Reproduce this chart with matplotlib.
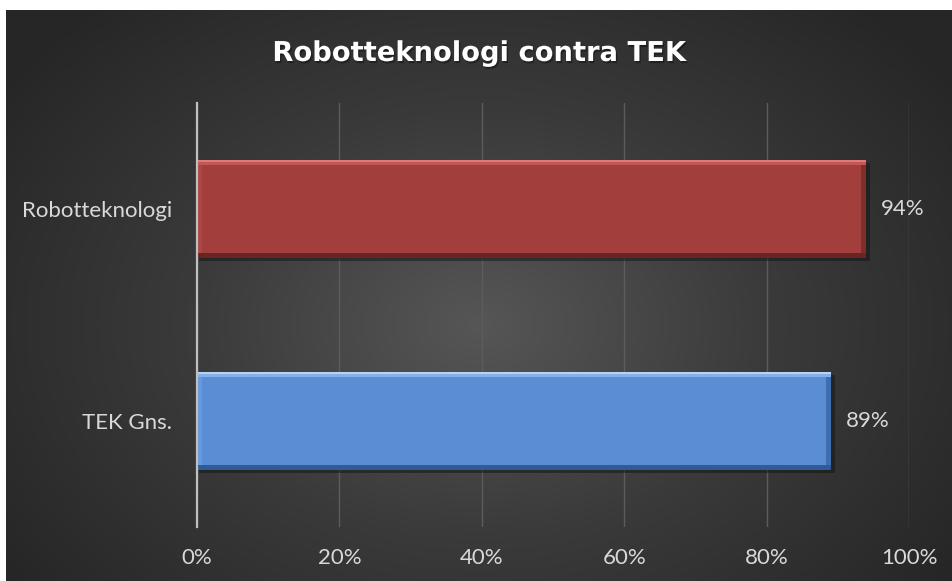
import numpy as np
import matplotlib
matplotlib.use("Agg")
import matplotlib.pyplot as plt
import matplotlib.patheffects as pe
from matplotlib.colors import LinearSegmentedColormap

categories = ["Robotteknologi", "TEK Gns."]
values = [0.94, 0.89]
labels = ["94%", "89%"]
xticks = [0, 0.2, 0.4, 0.6, 0.8, 1.0]
xticklabels = ["0%", "20%", "40%", "60%", "80%", "100%"]
title = "Robotteknologi contra TEK"

W, H = 952, 581
fig = plt.figure(figsize=(W / 100, H / 100), dpi=100, facecolor="white")

# background with radial gradient
bg = fig.add_axes([6 / W, 0, (W - 6) / W, (H - 10) / H])
bg.set_axis_off()
ny, nx = 300, 500
yy, xx = np.mgrid[0:ny, 0:nx]
cx, cy = nx * 0.5, ny * 0.55
r = np.sqrt(((xx - cx) / (nx * 0.62)) ** 2 + ((yy - cy) / (ny * 0.75)) ** 2)
r = np.clip(r, 0, 1)
cmap_bg = LinearSegmentedColormap.from_list("bg", ["#565656", "#3a3a3a", "#262626"])
bg.imshow(r, cmap=cmap_bg, aspect="auto", extent=[0, 1, 0, 1], interpolation="bilinear")
bg.set_xlim(0, 1)
bg.set_ylim(0, 1)

font = "Lato"
fs = 16

ax = fig.add_axes([197 / W, 1 - 527 / H, (909 - 197) / W, (527 - 103) / H])
ax.set_facecolor("none")
ax.set_xlim(0, 1)
pos = np.arange(len(categories))
ax.set_ylim(len(categories) - 0.5, -0.5)

ax.set_xticks(xticks)
ax.grid(axis="x", color="#5c5c5c", linewidth=1.0)
ax.set_axisbelow(True)
for s in ["top", "right", "bottom"]:
    ax.spines[s].set_visible(False)
ax.spines["left"].set_color("#bfbfbf")
ax.spines["left"].set_linewidth(1.6)
ax.spines["left"].set_zorder(6)

main_cols = ["#a23e3c", "#5b8dd5"]
hi_cols = ["#e07a78", "#b3d3f7"]
top_cols = ["#c25856", "#86b0e8"]
left_cols = ["#ad4644", "#6699de"]
bot_cols = ["#6a2422", "#2f5c99"]
right_cols = ["#7e2e2c", "#3e6db0"]
h = 0.46
py = 0.0047   # one pixel in y data units
px = 1 / 712  # one pixel in x data units
for i, v in enumerate(values):
    y0 = pos[i] - h / 2
    y1 = pos[i] + h / 2
    # shadow
    ax.barh(pos[i] + 3 * py, v + 2 * px, height=h, left=2 * px, color="#141414", alpha=0.5, zorder=2)
    ax.barh(pos[i], v, height=h, color=main_cols[i], zorder=3)
    # bevel: left & right sides
    ax.barh(pos[i], 5 * px, height=h, left=0, color=left_cols[i], zorder=4)
    ax.barh(pos[i], 5 * px, height=h, left=v - 5 * px, color=right_cols[i], zorder=4)
    # top & bottom
    ax.barh(y0 + 2.5 * py, v, height=5 * py, color=top_cols[i], zorder=5)
    ax.barh(y0 + 1 * py, v, height=2 * py, color=hi_cols[i], zorder=5)
    ax.barh(y1 - 2.5 * py, v, height=5 * py, color=bot_cols[i], zorder=5)
    ax.text(v + 0.021, pos[i], labels[i], va="center", ha="left", color="#d9d9d9",
            fontsize=fs, family=font)

ax.set_yticks(pos)
ax.set_yticklabels(categories, color="#d9d9d9", fontsize=fs, family=font)
ax.set_xticklabels(xticklabels, color="#d9d9d9", fontsize=fs, family=font)
ax.tick_params(axis="both", length=0)
ax.tick_params(axis="y", pad=18)
ax.tick_params(axis="x", pad=15)

fig.text((6 + W) / 2 / W, 1 - 61 / H, title, ha="center", va="baseline", color="white",
         fontsize=19.7, fontweight="bold", family="DejaVu Sans",
         path_effects=[pe.withSimplePatchShadow(offset=(1, -1.5), shadow_rgbFace="black", alpha=0.35)])

fig.savefig("out.png", dpi=100, facecolor="white")
